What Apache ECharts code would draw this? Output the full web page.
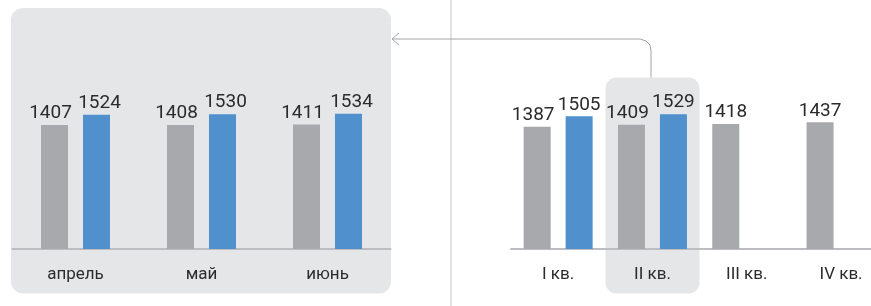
<!DOCTYPE html>
<html>
<head>
<meta charset="utf-8">
<script src="https://cdn.jsdelivr.net/npm/echarts@6/dist/echarts.min.js"></script>
<style>
  html, body { margin: 0; padding: 0; background: #fff; }
  #main { width: 871px; height: 306px; }
</style>
</head>
<body>
<div id="main"></div>
<script>
var months = ['апрель', 'май', 'июнь'];
var monthPrev = [1407, 1408, 1411];
var monthCur = [1524, 1530, 1534];

var quarters = ['I кв.', 'II кв.', 'III кв.', 'IV кв.'];
var quarterPrev = [1387, 1409, 1418, 1437];
var quarterCur = [1505, 1529, null, null];

const grayColor = '#a8a9ad';
const blueColor = '#4f90cd';
const panelColor = '#e5e6e8';
const textColor = '#2b2b2b';
const fontName = 'Roboto';

var chartDom = document.getElementById('main');
var myChart = echarts.init(chartDom, null, { renderer: 'canvas' });

function valueLabel(dx) {
  return {
    show: true,
    position: 'top',
    distance: 2,
    offset: [dx, 0],
    color: textColor,
    fontFamily: fontName,
    fontSize: 19
  };
}

// gray labels shift left only when a blue bar stands next to them
function grayData(prev, cur) {
  var out = [];
  for (var i = 0; i < prev.length; i++) {
    out.push({
      value: prev[i],
      label: valueLabel(cur[i] != null ? -4 : 0)
    });
  }
  return out;
}

function xAxisFor(idx, cats) {
  return {
    type: 'category',
    gridIndex: idx,
    data: cats,
    axisTick: { show: false },
    axisLine: { lineStyle: { color: '#bcbdc0', width: 2 } },
    axisLabel: {
      color: textColor,
      fontFamily: fontName,
      fontSize: 17,
      margin: 17
    }
  };
}

function yAxisFor(idx) {
  return {
    type: 'value',
    gridIndex: idx,
    min: 0,
    max: 2000,
    show: false,
    splitLine: { show: false }
  };
}

var option = {
  animation: false,
  backgroundColor: '#ffffff',
  grid: [
    { left: 12.5, width: 378, top: 72.7, height: 176.3, outerBoundsMode: 'none', containLabel: false },
    { left: 511, width: 377.2, top: 72.7, height: 176.3, outerBoundsMode: 'none', containLabel: false }
  ],
  xAxis: [xAxisFor(0, months), xAxisFor(1, quarters)],
  yAxis: [yAxisFor(0), yAxisFor(1)],
  graphic: [
    {
      type: 'rect',
      z: -10,
      shape: { x: 11, y: 8, width: 380, height: 285.5, r: 12 },
      style: { fill: panelColor }
    },
    {
      type: 'rect',
      z: -10,
      shape: { x: 605.5, y: 77.5, width: 94, height: 216, r: 11 },
      style: { fill: panelColor }
    },
    {
      type: 'line',
      z: -5,
      shape: { x1: 451, y1: 0, x2: 451, y2: 306 },
      style: { stroke: '#c4c5c8', lineWidth: 1 }
    },
    {
      type: 'polyline',
      z: 5,
      shape: {
        points: [[651, 77.5], [651, 51], [650, 45], [646, 41], [640, 39], [392, 39]],
        smooth: 0
      },
      style: { stroke: '#a3a4a8', lineWidth: 1, fill: null }
    },
    {
      type: 'polyline',
      z: 5,
      shape: { points: [[399, 33], [392, 39], [399, 45]] },
      style: { stroke: '#a3a4a8', lineWidth: 1, fill: null }
    }
  ],
  series: [
    {
      name: 'prev-m',
      type: 'bar',
      xAxisIndex: 0,
      yAxisIndex: 0,
      barWidth: 27,
      barGap: '55.5%',
      itemStyle: { color: grayColor },
      data: grayData(monthPrev, monthCur)
    },
    {
      name: 'cur-m',
      type: 'bar',
      xAxisIndex: 0,
      yAxisIndex: 0,
      barWidth: 27,
      barGap: '55.5%',
      itemStyle: { color: blueColor },
      label: valueLabel(3),
      data: monthCur
    },
    {
      name: 'prev-q',
      type: 'bar',
      xAxisIndex: 1,
      yAxisIndex: 1,
      barWidth: 27,
      barGap: '55.5%',
      itemStyle: { color: grayColor },
      data: grayData(quarterPrev, quarterCur)
    },
    {
      name: 'cur-q',
      type: 'bar',
      xAxisIndex: 1,
      yAxisIndex: 1,
      barWidth: 27,
      barGap: '55.5%',
      itemStyle: { color: blueColor },
      label: valueLabel(0),
      data: quarterCur
    }
  ]
};

option && myChart.setOption(option);
</script>
</body>
</html>
